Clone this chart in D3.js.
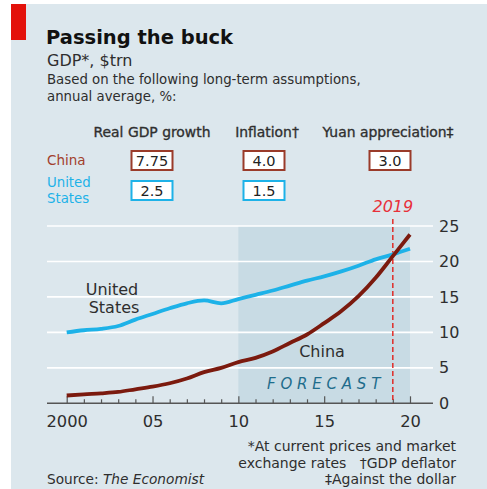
<!DOCTYPE html>
<html>
<head>
<meta charset="utf-8">
<script src="https://cdn.jsdelivr.net/npm/d3@7"></script>
<style>
  body { margin: 0; background: #fff; }
  svg { display: block; font-family: "DejaVu Sans", sans-serif; }
  .grid line { stroke: #fff; stroke-width: 1.6; }
  .lbl { fill: #2e2e2e; }
  .pre { white-space: pre; }
</style>
</head>
<body>
<svg width="487" height="489"></svg>
<script>
// data
var years = [2000, 2001, 2002, 2003, 2004, 2005, 2006, 2007, 2008, 2009, 2010,
             2011, 2012, 2013, 2014, 2015, 2016, 2017, 2018, 2019, 2020];
var usGdp = [10.0, 10.3, 10.5, 10.9, 11.8, 12.6, 13.4, 14.1, 14.5, 14.1, 14.7,
             15.3, 15.9, 16.6, 17.3, 17.9, 18.6, 19.4, 20.3, 21.0, 21.8];
var chinaGdp = [1.1, 1.27, 1.41, 1.6, 1.98, 2.35, 2.83, 3.5, 4.4, 5.0, 5.8,
                6.4, 7.3, 8.5, 9.7, 11.3, 13.0, 15.1, 17.7, 20.75, 23.8];
var yTicks = [0, 5, 10, 15, 20, 25];
var xLabels = ["2000", "05", "10", "15", "20"];
var forecastRange = [2010, 2020];
var crossYear = 2019;

var assumptionCols = ["Real GDP growth", "Inflation†", "Yuan appreciation‡"];
var chinaAssump = ["7.75", "4.0", "3.0"];
var usAssump = ["2.5", "1.5", null];

var svg = d3.select("svg");
var width = +svg.attr("width");
var height = +svg.attr("height");

var red = "#e3120b", usBlue = "#1db2e8", chinaRed = "#7b1a0e";

// panel
svg.append("rect").attr("x", 11).attr("y", 4).attr("width", width - 11).attr("height", height - 4)
  .attr("fill", "#dce7ed");
svg.append("rect").attr("x", 11).attr("y", 4).attr("width", 15).attr("height", 36).attr("fill", red);

// titles
svg.append("text").attr("x", 46).attr("y", 44).attr("font-size", 19.5).attr("font-weight", 700)
  .attr("fill", "#111").text("Passing the buck");
svg.append("text").attr("x", 47).attr("y", 66).attr("font-size", 16)
  .attr("class", "lbl").text("GDP*, $trn");
svg.append("text").attr("x", 47).attr("y", 84).attr("font-size", 13.3)
  .attr("class", "lbl").text("Based on the following long-term assumptions,");
svg.append("text").attr("x", 47).attr("y", 101).attr("font-size", 13.3)
  .attr("class", "lbl").text("annual average, %:");

// assumptions table
var colX = [152, 264, 390];
var headX = [152, 267, 388];
svg.selectAll(".colhead").data(assumptionCols).enter().append("text")
  .attr("class", "lbl")
  .attr("x", (d, i) => headX[i]).attr("y", 137)
  .attr("text-anchor", "middle").attr("font-size", 13.9)
  .attr("stroke", "#333").attr("stroke-width", 0.35)
  .text(d => d);

svg.append("text").attr("x", 47).attr("y", 165).attr("font-size", 13.5).attr("fill", "#a2402c").text("China");
svg.append("text").attr("x", 47).attr("y", 187).attr("font-size", 13.3).attr("fill", usBlue).text("United");
svg.append("text").attr("x", 47).attr("y", 202.5).attr("font-size", 13.3).attr("fill", usBlue).text("States");

function boxRow(vals, yTop, col) {
  var g = svg.append("g");
  vals.forEach(function(v, i) {
    if (v == null) return;
    var w = 41;
    g.append("rect").attr("x", colX[i] - w / 2).attr("y", yTop).attr("width", w).attr("height", 19)
      .attr("fill", "#fff").attr("stroke", col).attr("stroke-width", 2);
    g.append("text").attr("x", colX[i]).attr("y", yTop + 15).attr("text-anchor", "middle")
      .attr("font-size", 14.5).attr("fill", "#222").text(v);
  });
}
boxRow(chinaAssump, 151, "#9a3b2a");
boxRow(usAssump, 181, usBlue);

// scales
var x = d3.scaleLinear().domain([2000, 2020]).range([66.7, 410]);
var y = d3.scaleLinear().domain([0, 25]).range([403.3, 226]);

// forecast shading
svg.append("rect")
  .attr("x", x(forecastRange[0])).attr("y", y(25))
  .attr("width", x(forecastRange[1]) - x(forecastRange[0]))
  .attr("height", y(0) - y(25))
  .attr("fill", "#c8dbe4");

// gridlines + y labels
var grid = svg.append("g").attr("class", "grid");
grid.selectAll("line").data(yTicks.filter(d => d > 0)).enter().append("line")
  .attr("x1", 47).attr("x2", 433)
  .attr("y1", d => y(d)).attr("y2", d => y(d));

svg.append("g")
  .attr("transform", "translate(433,0)")
  .call(d3.axisRight(y).tickValues(yTicks).tickSize(0).tickPadding(6))
  .call(g => g.select(".domain").remove())
  .call(g => g.selectAll("text").attr("font-size", 16).attr("fill", "#2e2e2e")
    .attr("font-family", "DejaVu Sans, sans-serif"));

// x axis
var xAxis = svg.append("g").attr("transform", "translate(0," + y(0) + ")");
xAxis.call(d3.axisBottom(x).tickValues(years).tickSizeInner(-4).tickSizeOuter(0).tickPadding(12)
  .tickFormat(d => d % 5 === 0 ? xLabels[(d - 2000) / 5] : ""));
xAxis.select(".domain").remove();
xAxis.selectAll(".tick line").attr("stroke", "#555").attr("stroke-width", 1.2)
  .attr("y2", d => d % 5 === 0 ? -7 : -4);
xAxis.selectAll("text").attr("font-size", 16.3).attr("fill", "#2e2e2e")
  .attr("font-family", "DejaVu Sans, sans-serif");
xAxis.append("line").attr("x1", 47).attr("x2", 433).attr("y1", 0).attr("y2", 0)
  .attr("stroke", "#555").attr("stroke-width", 1.4);

// 2019 marker
svg.append("line")
  .attr("x1", x(crossYear)).attr("x2", x(crossYear))
  .attr("y1", 219).attr("y2", y(0))
  .attr("stroke", red).attr("stroke-width", 1.3).attr("stroke-dasharray", "5,3");
svg.append("text").attr("x", x(crossYear)).attr("y", 212).attr("text-anchor", "middle")
  .attr("font-size", 16).attr("font-style", "italic")
  .attr("fill", "#e8303a").text(crossYear);

// lines
var line = d3.line()
  .x((d, i) => x(years[i]))
  .y(d => y(d))
  .curve(d3.curveMonotoneX);

svg.append("path").datum(usGdp).attr("d", line)
  .attr("fill", "none").attr("stroke", usBlue).attr("stroke-width", 3.8);
svg.append("path").datum(chinaGdp).attr("d", line)
  .attr("fill", "none").attr("stroke", chinaRed).attr("stroke-width", 3.8);

// series labels
svg.append("text").attr("x", 112).attr("y", 294.5).attr("text-anchor", "middle")
  .attr("font-size", 16).attr("class", "lbl").text("United");
svg.append("text").attr("x", 114).attr("y", 313.3).attr("text-anchor", "middle")
  .attr("font-size", 16).attr("class", "lbl").text("States");
svg.append("text").attr("x", 322).attr("y", 357).attr("text-anchor", "middle")
  .attr("font-size", 16).attr("class", "lbl").text("China");
svg.append("text").attr("x", 267).attr("y", 389)
  .attr("font-size", 15).attr("font-style", "italic").attr("letter-spacing", 4.8)
  .attr("fill", "#1f6d8c").text("FORECAST");

// footnotes
var notes = ["*At current prices and market", "exchange rates   †GDP deflator", "‡Against the dollar"];
svg.selectAll(".note").data(notes).enter().append("text")
  .attr("class", "lbl pre")
  .attr("x", 456).attr("y", (d, i) => 451 + i * 16.5)
  .attr("text-anchor", "end").attr("font-size", 14)
  .text(d => d);
var src = svg.append("text").attr("x", 47).attr("y", 484).attr("font-size", 13.7)
  .attr("class", "lbl");
src.append("tspan").text("Source: ");
src.append("tspan").attr("font-style", "italic").text("The Economist");
</script>
</body>
</html>
